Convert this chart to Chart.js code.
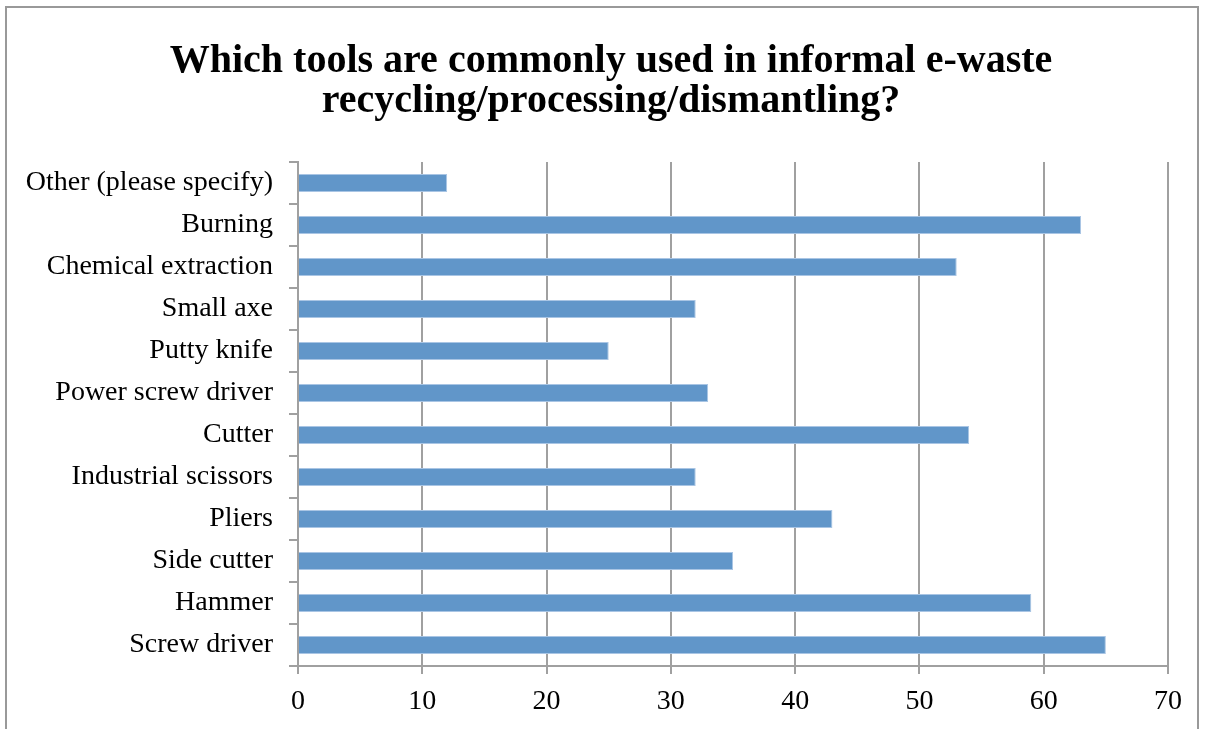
<!DOCTYPE html>
<html>
  <head>
    <script src="https://cdn.jsdelivr.net/npm/chart.js@4.4.0/dist/chart.umd.min.js"></script>
    <style>
      html, body { margin: 0; padding: 0; overflow: hidden; background: #fff; }
      #frame { position: absolute; left: 5px; top: 6px; width: 1190px; height: 800px; border: 2px solid #999; }
      #myChart { position: absolute; left: 0; top: 0; }
    </style>
  </head>
  <body>
    <div id="frame"></div>
    <canvas id="myChart" width="1207" height="729"></canvas>
    <script>
      // categories, top to bottom as in the picture
      var tools = [
        "Other (please specify)",
        "Burning",
        "Chemical extraction",
        "Small axe",
        "Putty knife",
        "Power screw driver",
        "Cutter",
        "Industrial scissors",
        "Pliers",
        "Side cutter",
        "Hammer",
        "Screw driver"
      ];
      var counts = [12, 63, 53, 32, 25, 33, 54, 32, 43, 35, 59, 65];
      var xTicks = [0, 10, 20, 30, 40, 50, 60, 70];
      var titleLines = [
        "Which tools are commonly used in informal e-waste",
        "recycling/processing/dismantling?"
      ];

      var serif = "'Liberation Serif', 'Times New Roman', serif";

      // the title sits a bit right of the canvas centre, so draw it here
      var titleText = {
        id: "titleText",
        afterDraw: function(chart) {
          var c = chart.ctx;
          c.save();
          c.fillStyle = "#000";
          c.font = "bold 40px " + serif;
          c.textAlign = "center";
          c.textBaseline = "alphabetic";
          titleLines.forEach(function(line, i) {
            c.fillText(line, 611, 72 + i * 40);
          });
          c.restore();
        }
      };

      var ctx = document.getElementById("myChart");
      var toolsChart = new Chart(ctx, {
        type: "bar",
        data: {
          labels: tools,
          datasets: [
            {
              data: counts,
              backgroundColor: "#6196c9",
              borderColor: "#a9c5e4",
              borderWidth: 1,
              barPercentage: 0.43,
              categoryPercentage: 1
            }
          ]
        },
        options: {
          indexAxis: "y",
          responsive: false,
          animation: false,
          layout: { padding: { left: 10, right: 39, top: 162, bottom: 0 } },
          plugins: {
            legend: { display: false },
            tooltip: { enabled: false },
            title: { display: false }
          },
          scales: {
            x: {
              min: 0,
              max: 70,
              afterBuildTicks: function(axis) {
                axis.ticks = xTicks.map(function(v) { return { value: v }; });
              },
              afterFit: function(scale) { scale.height = 63; },
              grid: { color: "#a0a0a0", lineWidth: 2, tickLength: 8 },
              border: { color: "#a0a0a0", width: 2 },
              ticks: { color: "#000", padding: 11, font: { family: serif, size: 28 } }
            },
            y: {
              afterFit: function(scale) { scale.width = 288; },
              grid: { color: "#a0a0a0", lineWidth: 2, tickLength: 9, drawOnChartArea: false, offset: true },
              border: { color: "#a0a0a0", width: 2 },
              ticks: { color: "#000", padding: 16, autoSkip: false, font: { family: serif, size: 28 } }
            }
          }
        },
        plugins: [titleText]
      });
    </script>
  </body>
</html>
